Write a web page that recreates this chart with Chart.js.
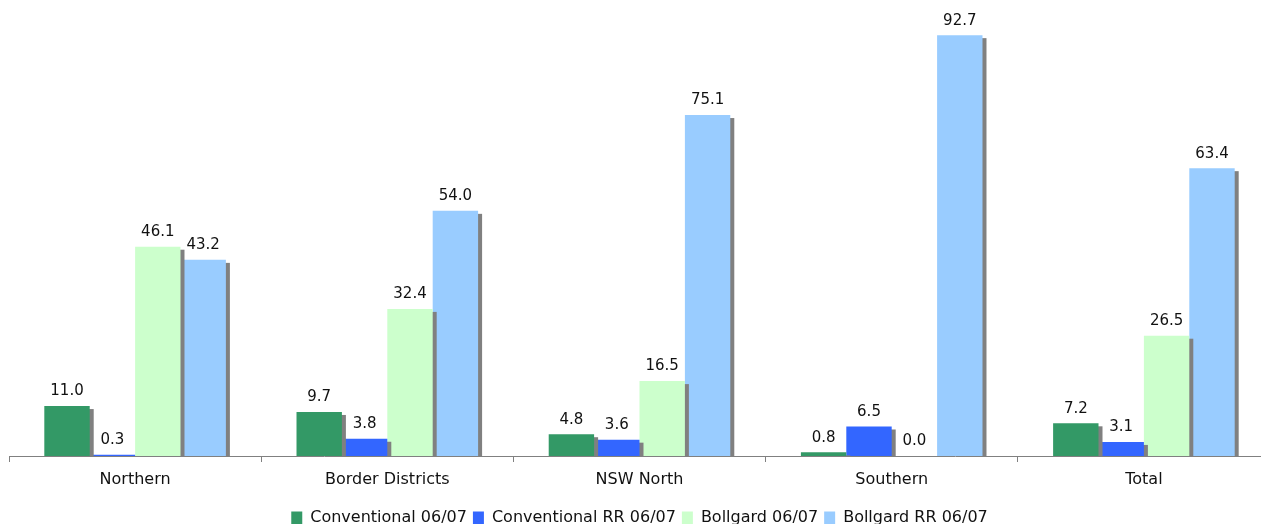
<!DOCTYPE html>
<html>
<head>
<meta charset="utf-8">
<script src="https://cdn.jsdelivr.net/npm/chart.js@4.4.1/dist/chart.umd.min.js"></script>
<style>
  html, body { margin: 0; padding: 0; background: #fff; overflow: hidden; }
  #wrap { width: 1280px; height: 524px; }
</style>
</head>
<body>
<div id="wrap"><canvas id="chart"></canvas></div>
<script>
// Values
const categories = ['Northern', 'Border Districts', 'NSW North', 'Southern', 'Total'];
const conventional = [11.0, 9.7, 4.8, 0.8, 7.2];
const conventionalRR = [0.3, 3.8, 3.6, 6.5, 3.1];
const bollgard = [46.1, 32.4, 16.5, 0.0, 26.5];
const bollgardRR = [43.2, 54.0, 75.1, 92.7, 63.4];

const FONT = "'DejaVu Sans', Verdana, sans-serif";

// Grey drop shadow behind each bar, drawn per dataset so later series cover it
const barShadow = {
  id: 'barShadow',
  beforeDatasetDraw(chart, args) {
    const ctx = chart.ctx;
    const base = chart.scales.y.getPixelForValue(0);
    ctx.save();
    ctx.fillStyle = '#808080';
    args.meta.data.forEach(bar => {
      const h = base - bar.y;
      if (h <= 3) return;
      const left = bar.x - bar.width / 2;
      ctx.fillRect(left + 4, bar.y + 3, bar.width, h - 3);
    });
    ctx.restore();
  },
};

// Value labels above bars
const valueLabels = {
  id: 'valueLabels',
  afterDatasetsDraw(chart) {
    const ctx = chart.ctx;
    ctx.save();
    ctx.font = '15px ' + FONT;
    ctx.fillStyle = '#111';
    ctx.textAlign = 'center';
    ctx.textBaseline = 'bottom';
    chart.data.datasets.forEach((ds, i) => {
      chart.getDatasetMeta(i).data.forEach((bar, j) => {
        ctx.fillText(ds.data[j].toFixed(1), bar.x, bar.y - 7);
      });
    });
    ctx.restore();
  },
};

new Chart(document.getElementById('chart'), {
  type: 'bar',
  data: {
    labels: categories,
    datasets: [
      { label: 'Conventional 06/07', data: conventional, backgroundColor: '#339966' },
      { label: 'Conventional RR 06/07', data: conventionalRR, backgroundColor: '#3366FF' },
      { label: 'Bollgard 06/07', data: bollgard, backgroundColor: '#CCFFCC' },
      { label: 'Bollgard RR 06/07', data: bollgardRR, backgroundColor: '#99CCFF' },
    ],
  },
  options: {
    responsive: true,
    maintainAspectRatio: false,
    animation: false,
    layout: { padding: { top: 2, left: 9, right: 10, bottom: -12 } },
    datasets: {
      bar: { categoryPercentage: 0.72, barPercentage: 1.0, borderWidth: 0 },
    },
    plugins: {
      legend: {
        position: 'bottom',
        labels: {
          color: '#111',
          font: { family: FONT, size: 16 },
          boxWidth: 11,
          boxHeight: 13,
          padding: 6,
        },
      },
      tooltip: { enabled: false },
    },
    scales: {
      x: {
        afterFit(scale) { scale.height = 48; },
        grid: {
          offset: true,
          drawOnChartArea: false,
          drawTicks: true,
          tickLength: 6,
          color: '#808080',
        },
        border: { color: '#808080', width: 1 },
        ticks: {
          color: '#111',
          font: { family: FONT, size: 16 },
          padding: 8,
        },
      },
      y: {
        display: false,
        min: 0,
        max: 100,
      },
    },
  },
  plugins: [barShadow, valueLabels],
});
</script>
</body>
</html>
